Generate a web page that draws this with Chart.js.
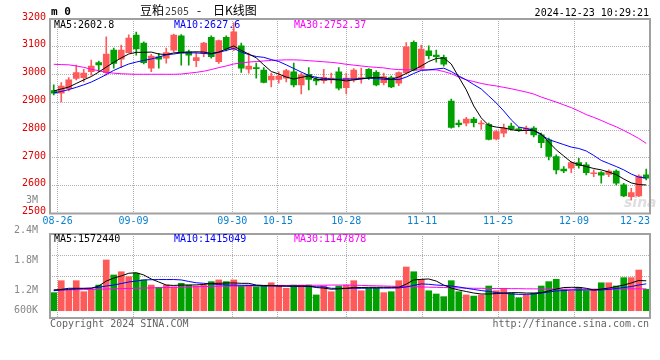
<!DOCTYPE html>
<html>
<head>
<meta charset="utf-8">
<script src="https://cdn.jsdelivr.net/npm/chart.js@4.4.1/dist/chart.umd.min.js"></script>
<style>
  html, body { margin: 0; padding: 0; background: #fff; }
  #wrap { position: relative; width: 660px; height: 360px; }
  .pane { position: absolute; left: 0; width: 660px; }
  #kbox { top: 0; height: 232px; }
  #vbox { top: 190px; height: 170px; }
</style>
</head>
<body>
<div id="wrap">
  <div class="pane" id="kbox"><canvas id="kChart"></canvas></div>
  <div class="pane" id="vbox"><canvas id="volChart"></canvas></div>
</div>
<script>
// m0 daily candles, 08-23 .. 12-23 (80 sessions)
const tickDates = ['08-26', '09-09', '09-30', '10-15', '10-28', '11-11', '11-25', '12-09', '12-23'];
const tickIdx = [1, 11, 24, 30, 39, 49, 59, 69, 79];

const open = [2942, 2933, 2949, 2986, 2989, 3010, 3043, 3007, 3088, 3055,
  3079, 3142, 3113, 3023, 3064, 3059, 3088, 3139, 3082, 3050,
  3077, 3134, 3046, 3134, 3091, 3103, 3019, 3025, 3016, 2981,
  2983, 2987, 3010, 2963, 3001, 2983, 2978, 2983, 3010, 2953,
  2981, 2986, 3019, 3008, 2971, 2989, 2969, 3006, 3116, 3023,
  3085, 3070, 3062, 2905, 2825, 2825, 2840, 2822, 2821, 2768,
  2789, 2815, 2805, 2801, 2807, 2783, 2765, 2705, 2660, 2663,
  2683, 2675, 2643, 2647, 2641, 2653, 2603, 2561, 2563, 2639];
const high = [2963, 2971, 2989, 3034, 3019, 3052, 3049, 3136, 3095, 3106,
  3143, 3153, 3118, 3073, 3076, 3095, 3146, 3144, 3088, 3079,
  3116, 3139, 3124, 3139, 3186, 3113, 3077, 3041, 3025, 3005,
  3010, 3019, 3041, 3005, 3025, 2992, 3019, 3005, 3025, 3005,
  3022, 3023, 3022, 3014, 3005, 2995, 3010, 3115, 3121, 3106,
  3103, 3088, 3070, 2912, 2836, 2846, 2846, 2834, 2825, 2800,
  2822, 2825, 2810, 2815, 2813, 2789, 2771, 2711, 2669, 2687,
  2699, 2683, 2657, 2651, 2657, 2657, 2609, 2591, 2639, 2660];
const low = [2927, 2902, 2941, 2981, 2974, 2998, 3010, 2998, 3023, 3025,
  3078, 3070, 3038, 3010, 3023, 3041, 3082, 3034, 3034, 3028,
  3064, 3059, 3040, 3085, 3086, 3008, 3005, 2987, 2970, 2956,
  2969, 2974, 2956, 2930, 2945, 2963, 2969, 2969, 2945, 2930,
  2974, 2969, 2983, 2959, 2963, 2953, 2960, 3004, 3013, 3020,
  3056, 3045, 3030, 2807, 2812, 2815, 2812, 2803, 2765, 2765,
  2776, 2800, 2795, 2786, 2776, 2737, 2693, 2642, 2647, 2647,
  2663, 2639, 2633, 2609, 2633, 2603, 2561, 2549, 2561, 2621];
const close = [2933, 2959, 2981, 3007, 3005, 3031, 3035, 3074, 3040, 3088,
  3131, 3092, 3043, 3067, 3055, 3079, 3142, 3078, 3070, 3061,
  3113, 3064, 3122, 3091, 3154, 3023, 3031, 3021, 2972, 2995,
  2995, 3014, 2963, 2999, 2983, 2977, 2990, 2987, 2951, 2987,
  3016, 2989, 2990, 2963, 2993, 2956, 3007, 3100, 3016, 3092,
  3068, 3064, 3037, 2810, 2820, 2840, 2827, 2825, 2767, 2795,
  2807, 2804, 2798, 2807, 2783, 2755, 2705, 2657, 2653, 2683,
  2672, 2647, 2645, 2638, 2653, 2609, 2563, 2575, 2635, 2627];

const ma5 = [2941, 2948, 2955, 2968, 2981, 2993, 3009, 3027, 3044, 3060,
  3074, 3080, 3080, 3081, 3074, 3072, 3078, 3080, 3081, 3082,
  3081, 3076, 3081, 3092, 3103, 3087, 3074, 3060, 3035, 3011,
  3002, 2991, 2984, 2990, 2995, 2984, 2981, 2982, 2981, 2977,
  2981, 2984, 2988, 2990, 2988, 2983, 2991, 3004, 3017, 3031,
  3047, 3058, 3060, 3038, 2991, 2945, 2887, 2844, 2817, 2811,
  2808, 2802, 2798, 2799, 2799, 2786, 2757, 2729, 2707, 2685,
  2676, 2669, 2662, 2657, 2649, 2640, 2624, 2610, 2604, 2602.8];
const ma10 = [2934, 2939, 2946, 2954, 2963, 2973, 2986, 3000, 3015, 3027,
  3038, 3045, 3051, 3056, 3063, 3071, 3074, 3078, 3078, 3078,
  3076, 3074, 3080, 3087, 3094, 3081, 3072, 3065, 3062, 3054,
  3047, 3035, 3022, 3009, 2997, 2990, 2986, 2984, 2983, 2984,
  2984, 2986, 2987, 2986, 2983, 2982, 2982, 2991, 3004, 3015,
  3017, 3020, 3023, 3011, 2995, 2981, 2964, 2948, 2923, 2898,
  2869, 2837, 2811, 2806, 2799, 2783, 2766, 2757, 2748, 2739,
  2734, 2725, 2709, 2691, 2680, 2669, 2657, 2642, 2631, 2627.6];
const ma30 = [3037, 3036, 3035, 3031, 3026, 3019, 3014, 3008, 3005, 3003,
  3002, 3001, 3001, 3001, 3001, 3001, 3001, 3002, 3005, 3008,
  3012, 3018, 3025, 3031, 3038, 3042, 3045, 3047, 3049, 3051,
  3052, 3053, 3053, 3052, 3050, 3048, 3046, 3044, 3041, 3037,
  3034, 3031, 3028, 3026, 3024, 3020, 3018, 3017, 3017, 3017,
  3017, 3017, 3011, 3003, 2991, 2981, 2975, 2968, 2963, 2959,
  2954, 2949, 2943, 2937, 2930, 2919, 2910, 2901, 2891, 2881,
  2869, 2856, 2846, 2835, 2823, 2812, 2799, 2785, 2770, 2752.37];

const volume = [950000, 1580000, 1090000, 1580000, 1000000, 1130000, 1350000, 2670000, 1880000, 2050000,
  1790000, 1970000, 1620000, 1350000, 1230000, 1350000, 1260000, 1440000, 1350000, 1300000,
  1350000, 1530000, 1620000, 1530000, 1620000, 1300000, 1350000, 1260000, 1300000, 1470000,
  1300000, 1180000, 1350000, 1350000, 1350000, 830000, 1300000, 1000000, 1300000, 1350000,
  1580000, 1050000, 1180000, 1180000, 950000, 1000000, 1580000, 2300000, 2050000, 1650000,
  1050000, 880000, 740000, 1580000, 1000000, 830000, 770000, 830000, 1300000, 1050000,
  1180000, 920000, 680000, 830000, 920000, 1300000, 1530000, 1650000, 1130000, 1050000,
  1230000, 1050000, 1130000, 1470000, 1470000, 1300000, 1740000, 1740000, 2140000, 1130000];
const volMa5 = [1090000, 1120000, 1180000, 1180000, 1180000, 1180000, 1300000, 1560000, 1720000, 1830000,
  1970000, 2000000, 1880000, 1670000, 1510000, 1350000, 1330000, 1350000, 1350000, 1360000,
  1380000, 1440000, 1440000, 1460000, 1460000, 1440000, 1440000, 1350000, 1330000, 1330000,
  1300000, 1300000, 1300000, 1300000, 1300000, 1220000, 1190000, 1130000, 1150000, 1170000,
  1230000, 1220000, 1230000, 1230000, 1230000, 1230000, 1230000, 1400000, 1620000, 1650000,
  1670000, 1560000, 1350000, 1190000, 1090000, 1010000, 930000, 880000, 880000, 900000,
  930000, 950000, 950000, 930000, 930000, 950000, 1040000, 1140000, 1220000, 1230000,
  1230000, 1180000, 1090000, 1140000, 1190000, 1270000, 1350000, 1460000, 1590000, 1572440];
const volMa10 = [1050000, 1090000, 1120000, 1140000, 1170000, 1190000, 1230000, 1300000, 1350000, 1430000,
  1510000, 1560000, 1620000, 1630000, 1640000, 1640000, 1640000, 1620000, 1540000, 1470000,
  1440000, 1410000, 1380000, 1350000, 1350000, 1340000, 1330000, 1320000, 1300000, 1300000,
  1300000, 1290000, 1280000, 1280000, 1270000, 1260000, 1250000, 1180000, 1180000, 1180000,
  1180000, 1180000, 1190000, 1190000, 1190000, 1190000, 1200000, 1250000, 1330000, 1410000,
  1390000, 1350000, 1330000, 1300000, 1250000, 1180000, 1120000, 1060000, 1010000, 960000,
  920000, 880000, 860000, 860000, 880000, 930000, 980000, 1040000, 1060000, 1090000,
  1090000, 1090000, 1090000, 1090000, 1120000, 1170000, 1220000, 1270000, 1350000, 1415049];
const volMa30 = [1090000, 1090000, 1100000, 1100000, 1110000, 1120000, 1130000, 1140000, 1150000, 1160000,
  1170000, 1180000, 1190000, 1200000, 1210000, 1220000, 1230000, 1240000, 1250000, 1260000,
  1270000, 1280000, 1290000, 1290000, 1300000, 1300000, 1310000, 1310000, 1320000, 1320000,
  1330000, 1330000, 1330000, 1330000, 1340000, 1340000, 1340000, 1350000, 1350000, 1350000,
  1340000, 1330000, 1320000, 1310000, 1300000, 1290000, 1280000, 1270000, 1260000, 1250000,
  1240000, 1230000, 1220000, 1210000, 1200000, 1190000, 1180000, 1180000, 1170000, 1170000,
  1170000, 1160000, 1160000, 1150000, 1150000, 1140000, 1140000, 1140000, 1130000, 1130000,
  1130000, 1130000, 1130000, 1130000, 1140000, 1140000, 1140000, 1150000, 1150000, 1147878];

const volTickVals = [3000000, 2400000, 1800000, 1200000, 600000];
const volTickLabels = ['3M', '2.4M', '1.8M', '1.2M', '600K'];

const kHeader = ['MA5:2602.8', 'MA10:2627.6', 'MA30:2752.37'];
const volHeader = ['MA5:1572440', 'MA10:1415049', 'MA30:1147878'];
const stamp = '2024-12-23 10:29:21';

const RED = '#ff5a5a';
const GREEN = '#00a000';
const MA_COLORS = ['#000000', '#0000ff', '#ff00ff'];
const GRID = '#b0b0b0';
const FRAME = '#a0a0a0';
const mono = '"DejaVu Sans Mono", monospace';

Chart.defaults.font.family = mono;
Chart.defaults.font.size = 10;

const idx = open.map((_, i) => i);
const candleColor = idx.map(i => close[i] >= open[i] ? RED : GREEN);
const xy = arr => arr.map((v, i) => ({ x: i, y: v }));

function lineSet(label, arr, color) {
  return {
    type: 'line', label: label, data: xy(arr), borderColor: color,
    borderWidth: 1, pointRadius: 0, fill: false, tension: 0, order: 0
  };
}

// x axis shared by both panes: 80 slots, date lines on the 79-step grid like the original
function xAxis(showLabels, h) {
  return {
    type: 'linear', min: -0.5, max: 79.5, offset: false,
    afterBuildTicks: s => { s.ticks = tickIdx.map(k => ({ value: k * 80 / 79 - 0.5 })); },
    ticks: {
      display: showLabels, autoSkip: false, maxRotation: 0, padding: 2,
      color: '#0a80d0', font: { family: mono, size: 10 },
      callback: (v, i) => i === tickDates.length - 1 ? tickDates[i] + '     ' : tickDates[i]
    },
    grid: { color: GRID, drawTicks: false, offset: false },
    border: { display: false, dash: [1, 1] },
    afterFit: s => { s.height = h; s.paddingLeft = 0; s.paddingRight = 0; }
  };
}

const framePlugin = {
  id: 'frame',
  afterDatasetsDraw(chart) {
    const { ctx, chartArea: a } = chart;
    ctx.save();
    ctx.strokeStyle = FRAME;
    ctx.lineWidth = 2;
    ctx.strokeRect(a.left, a.top, a.right - a.left, a.bottom - a.top);
    ctx.restore();
  }
};

function header(ctx, texts, y) {
  const xs = [54, 174, 294];
  texts.forEach((t, i) => {
    ctx.fillStyle = MA_COLORS[i];
    ctx.fillText(t, xs[i], y);
  });
}

const kText = {
  id: 'kText',
  beforeDatasetsDraw(chart) {
    const ctx = chart.ctx;
    ctx.save();
    ctx.fillStyle = '#dedede';
    ctx.font = 'italic bold 14px "DejaVu Sans", sans-serif';
    ctx.fillText('sina', 624, 207);
    ctx.restore();
  },
  afterDraw(chart) {
    const ctx = chart.ctx;
    ctx.save();
    ctx.textBaseline = 'alphabetic';
    ctx.fillStyle = '#000';
    ctx.font = 'bold 11px ' + mono;
    ctx.fillText('m 0', 51, 15);
    ctx.font = '12px "Noto Sans CJK SC", sans-serif';
    ctx.fillText('豆粕', 140, 15);
    ctx.fillText('-', 197, 15);
    ctx.fillText('日K线图', 213, 15);
    ctx.fillStyle = '#444';
    ctx.font = '10px ' + mono;
    ctx.fillText('2505', 165, 15);
    ctx.fillStyle = '#000';
    ctx.textAlign = 'right';
    ctx.fillText(stamp, 649, 15.5);
    ctx.textAlign = 'left';
    header(ctx, kHeader, 27.5);
    ctx.restore();
  }
};

const volText = {
  id: 'volText',
  afterDraw(chart) {
    const ctx = chart.ctx;
    ctx.save();
    ctx.font = '10px ' + mono;
    ctx.textBaseline = 'alphabetic';
    header(ctx, volHeader, 52);
    ctx.fillStyle = '#646464';
    ctx.fillText('Copyright 2024 SINA.COM', 50, 136.5);
    ctx.textAlign = 'right';
    ctx.fillText('http://finance.sina.com.cn', 649, 136.5);
    ctx.restore();
  }
};

const kChart = new Chart(document.getElementById('kChart'), {
  type: 'bar',
  data: {
    datasets: [
      lineSet('MA5', ma5, MA_COLORS[0]),
      lineSet('MA10', ma10, MA_COLORS[1]),
      lineSet('MA30', ma30, MA_COLORS[2]),
      {
        type: 'bar', label: 'body', data: idx.map(i => ({ x: i, y: [open[i], close[i]] })),
        backgroundColor: candleColor, barThickness: 6, minBarLength: 1, grouped: false, order: 1
      },
      {
        type: 'bar', label: 'wick', data: idx.map(i => ({ x: i, y: [low[i], high[i]] })),
        backgroundColor: candleColor, barThickness: 1, grouped: false, order: 2
      }
    ]
  },
  options: {
    responsive: true,
    maintainAspectRatio: false,
    devicePixelRatio: 1,
    animation: false,
    layout: { padding: { top: 19, right: 10, left: 0, bottom: 0 } },
    scales: {
      x: xAxis(true, 18.5),
      y: {
        type: 'linear', position: 'left', min: 2500, max: 3200,
        ticks: {
          stepSize: 100, autoSkip: false, color: '#e00000', padding: 4, labelOffset: -2,
          font: { family: mono, size: 10 }, callback: v => String(v)
        },
        grid: { color: GRID, drawTicks: false },
        border: { display: false, dash: [1, 1] },
        afterFit: s => { s.width = 50; s.paddingTop = 0; s.paddingBottom = 0; }
      }
    },
    plugins: { legend: { display: false }, tooltip: { enabled: false } }
  },
  plugins: [framePlugin, kText]
});

const volChart = new Chart(document.getElementById('volChart'), {
  type: 'bar',
  data: {
    datasets: [
      Object.assign(lineSet('MA5', volMa5, MA_COLORS[0]), { yAxisID: 'y' }),
      Object.assign(lineSet('MA10', volMa10, MA_COLORS[1]), { yAxisID: 'y' }),
      Object.assign(lineSet('MA30', volMa30, MA_COLORS[2]), { yAxisID: 'y' }),
      {
        type: 'bar', label: 'volume', data: xy(volume), yAxisID: 'y',
        backgroundColor: candleColor, barThickness: 6, grouped: false, order: 1
      }
    ]
  },
  options: {
    responsive: true,
    maintainAspectRatio: false,
    devicePixelRatio: 1,
    animation: false,
    layout: { padding: { top: 44, right: 10, left: 0, bottom: 0 } },
    scales: {
      x: xAxis(false, 42),
      y: {
        type: 'linear', position: 'left', min: -384000, max: 4037000, weight: 0,
        ticks: { display: false, count: 5 },
        grid: { color: GRID, drawTicks: false },
        border: { display: false, dash: [1, 1] },
        afterFit: s => { s.width = 0; s.paddingTop = 0; s.paddingBottom = 0; }
      },
      yl: {
        type: 'linear', position: 'left', min: 654000, max: 2334000, weight: 1,
        afterBuildTicks: s => { s.ticks = volTickVals.map(v => ({ value: Math.max(v, 814000) })); },
        ticks: { autoSkip: false, color: '#888888', padding: 4, font: { family: mono, size: 10 }, callback: (v, i) => volTickLabels[i] },
        grid: { display: false },
        border: { display: false },
        afterFit: s => { s.width = 50; s.paddingTop = 0; s.paddingBottom = 0; }
      }
    },
    plugins: { legend: { display: false }, tooltip: { enabled: false } }
  },
  plugins: [framePlugin, volText]
});
</script>
</body>
</html>
